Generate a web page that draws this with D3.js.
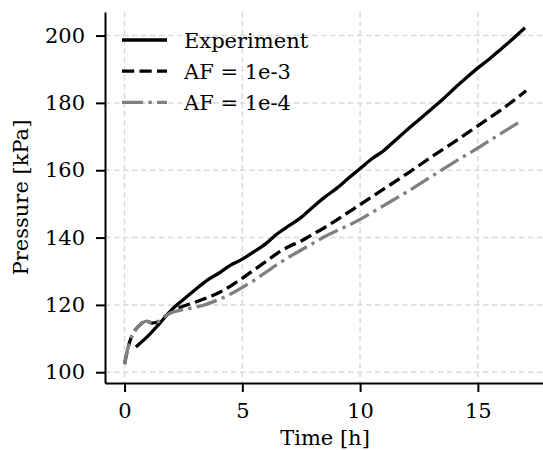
<!DOCTYPE html>
<html>
<head>
<meta charset="utf-8">
<script src="https://cdn.jsdelivr.net/npm/d3@7"></script>
<style>
  body { margin: 0; background: #fff; }
  text { font-family: "DejaVu Serif", serif; }
</style>
</head>
<body>
<div id="chart"></div>
<script>
// series: time [h] and pressure [kPa]
const expTime = [0.48, 1, 1.5, 2, 2.5, 3, 3.5, 4, 4.5, 5, 5.5, 6, 6.5, 7, 7.5, 8, 8.5, 9, 9.5, 10, 10.5, 11, 11.5, 12, 12.5, 13, 13.5, 14, 14.5, 15, 15.5, 16, 16.5, 17]
const expPressure = [107.5, 110.8, 114.6, 118.6, 121.6, 124.5, 127.3, 129.4, 131.8, 133.6, 135.8, 138.2, 141.2, 143.6, 146, 149.1, 152, 154.6, 157.6, 160.5, 163.4, 165.8, 168.9, 172, 175, 178, 181, 184.3, 187.4, 190.4, 193.1, 196.1, 199.1, 202.3]

const af3Time = [0, 0.12, 0.24, 0.45, 0.67, 0.95, 1.16, 1.4, 1.6, 1.95, 2.3, 3, 3.6, 4, 4.5, 5, 5.5, 6, 6.5, 7, 7.5, 8, 8.5, 9, 10, 11, 12, 13, 14, 15, 16, 17.05]
const af3Pressure = [102.4, 106.5, 109.5, 112.5, 114.2, 115.2, 114.6, 114.9, 116, 117.8, 119.1, 120.8, 122.4, 123.6, 125.6, 127.9, 130.4, 132.9, 135.4, 137.4, 139, 141, 143, 145.2, 149.8, 154.4, 159, 163.8, 168.4, 173.2, 178, 183.6]

const af4Time = [0, 0.12, 0.24, 0.45, 0.67, 0.95, 1.16, 1.4, 1.6, 1.95, 2.36, 3, 3.35, 4, 4.5, 5, 5.5, 6, 6.5, 7, 7.5, 8, 8.5, 9, 9.5, 10, 11, 12, 13, 14, 15, 16, 16.9]
const af4Pressure = [102.4, 106.5, 109.5, 112.5, 114.2, 115.2, 114.6, 114.9, 116, 117.6, 118.4, 119.3, 119.9, 121.6, 123.2, 125.2, 127.3, 129.7, 132.1, 134.3, 136.3, 138.3, 140.3, 142, 143.6, 145.4, 149.5, 153.6, 158, 162.4, 166.6, 171, 174.9]

const seriesNames = ["Experiment", "AF = 1e-3", "AF = 1e-4"]
const xTicks = [0, 5, 10, 15]
const yTicks = [100, 120, 140, 160, 180, 200]

const W = 543, H = 450
const margin = {top: 12, right: -2, bottom: 67, left: 105}
const width = W - margin.left - margin.right
const height = H - margin.top - margin.bottom

const svg = d3.select("#chart").append("svg")
    .attr("width", W).attr("height", H)
const g = svg.append("g")
    .attr("transform", "translate(" + margin.left + "," + margin.top + ")")

const xScale = d3.scaleLinear().domain([-0.83, 17.85]).range([0, width])
const yScale = d3.scaleLinear().domain([96.8, 207]).range([height, 0])

// grid
g.append("g").selectAll("line").data(xTicks).enter().append("line")
    .attr("x1", d => xScale(d)).attr("x2", d => xScale(d))
    .attr("y1", 0).attr("y2", height)
    .style("stroke", "#dadada").style("stroke-width", 1.5).style("stroke-dasharray", "5.5,3.5")
g.append("g").selectAll("line").data(yTicks).enter().append("line")
    .attr("y1", d => yScale(d)).attr("y2", d => yScale(d))
    .attr("x1", 0).attr("x2", width)
    .style("stroke", "#dadada").style("stroke-width", 1.5).style("stroke-dasharray", "5.5,3.5")

// axes
const xAxis = g.append("g")
    .attr("transform", "translate(0," + height + ")")
    .call(d3.axisBottom(xScale).tickValues(xTicks).tickSize(9).tickPadding(11).tickSizeOuter(0))
const yAxis = g.append("g")
    .call(d3.axisLeft(yScale).tickValues(yTicks).tickSize(9).tickPadding(11).tickSizeOuter(0))
for (const ax of [xAxis, yAxis]) {
    ax.select(".domain").style("stroke", "#000").style("stroke-width", 2)
    ax.selectAll(".tick line").style("stroke", "#000").style("stroke-width", 2)
    ax.selectAll(".tick text").style("font-family", "DejaVu Serif").style("font-size", "21px").style("fill", "#000")
}

// lines
const styles = [
    {color: "#000", dash: null},
    {color: "#000", dash: "12.2,5.3"},
    {color: "#808080", dash: "21.1,5.3,3.3,5.3"}
]
const datasets = [
    d3.zip(expTime, expPressure),
    d3.zip(af3Time, af3Pressure),
    d3.zip(af4Time, af4Pressure)
]
const line = d3.line()
    .x(d => xScale(d[0]))
    .y(d => yScale(d[1]))
    .curve(d3.curveMonotoneX)

for (let i = 0; i < datasets.length; i++) {
    g.append("path")
        .datum(datasets[i])
        .attr("d", line)
        .style("fill", "none")
        .style("stroke", styles[i].color)
        .style("stroke-width", 3.3)
        .style("stroke-dasharray", styles[i].dash)
}

// legend
let legendY = 40
for (let i = 0; i < seriesNames.length; i++) {
    svg.append("line")
        .attr("x1", 122).attr("x2", 167)
        .attr("y1", legendY).attr("y2", legendY)
        .style("stroke", styles[i].color).style("stroke-width", 3.3)
        .style("stroke-dasharray", styles[i].dash)
    svg.append("text")
        .attr("x", 184).attr("y", legendY + 7.7)
        .text(seriesNames[i])
        .style("font-size", "21px")
    legendY += 31.2
}

// axis labels
svg.append("text")
    .attr("x", margin.left + width / 2).attr("y", 445)
    .attr("text-anchor", "middle")
    .text("Time [h]").style("font-size", "21px")
svg.append("text")
    .attr("transform", "translate(28," + (margin.top + height / 2) + ")rotate(-90)")
    .attr("text-anchor", "middle")
    .text("Pressure [kPa]").style("font-size", "21px")
</script>
</body>
</html>
